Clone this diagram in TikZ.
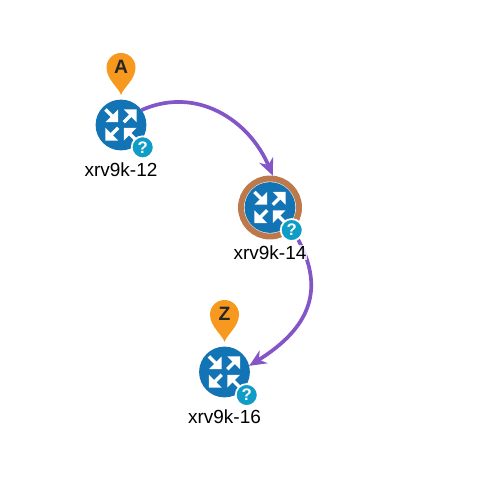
\documentclass[tikz,border=0pt]{standalone}
\usepackage{fontspec}
\setmainfont{Liberation Sans}
\usepackage{tikz}
\usetikzlibrary{arrows.meta,positioning,calc}

\definecolor{routerblue}{HTML}{1273B5}
\definecolor{badgeblue}{HTML}{0F9CC6}
\definecolor{pinorange}{HTML}{F7981F}
\definecolor{ringbrown}{HTML}{BC7A4C}
\definecolor{pathpurple}{HTML}{8455C6}

% four white arrows of the router icon
\newcommand{\routericon}[1]{
    \foreach \ang/\flip in {45/1,225/1,135/-1,315/-1}{
        \begin{scope}[shift={(#1)},rotate=\ang]
            \ifnum\flip=1
                \draw[iconarrow] (4,0) -- (15,0);
                \fill[white] (22,0) -- (13,-9) -- (13,9) -- cycle;
            \else
                \draw[iconarrow] (22,0) -- (11,0);
                \fill[white] (4,0) -- (13,-9) -- (13,9) -- cycle;
            \fi
        \end{scope}
    }
}
% map pin with its letter
\newcommand{\mappin}[3]{
    \fill[pinorange] ($(#1)+(0,-30)$) .. controls +(-2,-7) and +(0,12) .. ($(#1)+(-14.5,-57.5)$)
        arc[start angle=180,end angle=360,radius=14.5] .. controls +(0,12) and +(2,-7) .. ($(#1)+(0,-30)$);
    \node[pintext] (#2) at ($(#1)+(0,-58)$) {#3};
}

\begin{document}
\begin{tikzpicture}[
    x=0.02cm, y=-0.02cm,
    router/.style={circle, fill=routerblue, minimum size=1.016cm, inner sep=0pt, outer sep=0pt},
    ring/.style={circle, draw=ringbrown, line width=3.4pt, minimum size=1.16cm, inner sep=0pt},
    badge/.style={circle, fill=badgeblue, draw=white, line width=1pt, minimum size=0.44cm, inner sep=0pt, text=white, font=\fontsize{9.5}{9.5}\selectfont\bfseries},
    hostname/.style={font=\fontsize{10.8}{12}\selectfont, text=black, inner sep=0.5pt, fill=white, fill opacity=0.8, text opacity=1},
    pintext/.style={font=\fontsize{11}{12}\selectfont\bfseries, text=black!85, inner sep=0pt},
    iconarrow/.style={draw=white, line width=2pt},
    arrow/.style={-{Stealth[length=0.34cm,width=0.3cm]}, draw=pathpurple, line width=2.1pt},
]
    \useasboundingbox (0,0) rectangle (485,489);

    % --- Routers ---
    \node[ring] (ring14) at (270,207.5) {};
    \node[router] (r12) at (121,125) {};
    \node[router] (r14) at (270,207.5) {};
    \node[router] (r16) at (224.5,372) {};

    % --- Links ---
    \draw[arrow] (r12.36) to[out=24, in=113, looseness=1.05] (ring14.85);
    \draw[arrow] (ring14.-45) to[out=-58, in=32, looseness=1.25] (r16.14);

    % --- Icons ---
    \routericon{r12}
    \routericon{r14}
    \routericon{r16}

    % --- Badges ---
    \node[badge] (b12) at (142.7,147.3) {?};
    \node[badge] (b14) at (291.7,230) {?};
    \node[badge] (b16) at (246.7,395) {?};

    % --- Pins ---
    \mappin{r12}{pina}{A}
    \mappin{r16}{pinz}{Z}

    % --- Hostnames ---
    \node[hostname, below=0.23cm of r12] (n12) {xrv9k-12};
    \node[hostname, below=0.23cm of r14] (n14) {xrv9k-14};
    \node[hostname, below=0.23cm of r16] (n16) {xrv9k-16};
\end{tikzpicture}
\end{document}
